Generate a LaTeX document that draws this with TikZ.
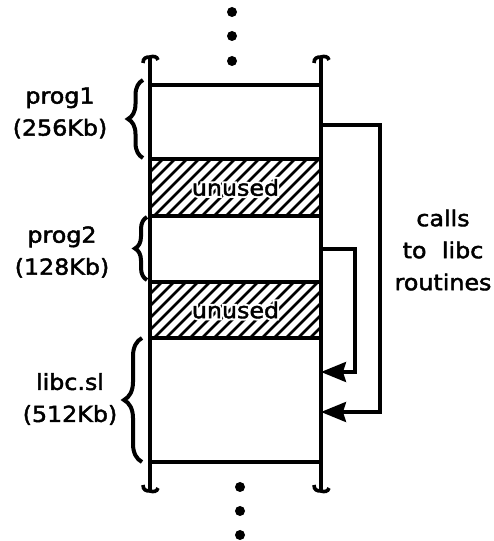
\documentclass[tikz,border=0pt]{standalone}
\usepackage{fontspec}
\setmainfont{DejaVu Sans}[FakeStretch=1.08, FakeBold=2]
\newfontfamily\halofont{DejaVu Sans}[FakeStretch=1.08, FakeBold=20]
\usetikzlibrary{arrows.meta,decorations.pathreplacing}

\tikzset{
  memline/.style={line width=3.6pt},
  hatchline/.style={line width=2.8pt},
  callarrow/.style={line width=3.2pt, -{Stealth[length=25pt,width=20pt,inset=3pt]}},
  segbrace/.style={line width=4pt, decorate, decoration={brace, amplitude=#1}},
  lbl/.style={align=center, font=\fontsize{22}{32}\selectfont},
  halo/.style={lbl, text=white, font=\fontsize{22}{32}\selectfont\halofont},
}
\newcommand{\breakmark}[2]{%
  \draw[memline, shift={(#1)}, yscale=#2]
    (-7,-6) .. controls (-7,-1) and (-4,0) .. (0,0)
    .. controls (3,1) and (7,1) .. (8,-3);}

\begin{document}
\begin{tikzpicture}[x=1pt, y=1pt]
  \useasboundingbox (0,0) rectangle (494,541);

  \coordinate (LT) at (150,484);
  \coordinate (LB) at (150,50);
  \coordinate (RT) at (321,484);
  \coordinate (RB) at (321,50);

  \foreach \ylo/\yhi/\nm in {325/382/unusedA, 203/259/unusedB} {
    \begin{scope}
      \clip (150,\ylo) rectangle (321,\yhi);
      \foreach \x in {82,94,...,321} \draw[hatchline] (\x,\ylo) -- ++(60,60);
    \end{scope}
    \node[halo] (\nm bg) at (235.5,{(\ylo+\yhi)/2}) {unused};
    \node[lbl] (\nm) at (235.5,{(\ylo+\yhi)/2}) {unused};
  }

  \foreach \y in {456,382,325,259,203,79} \draw[memline] (150,\y) -- (321,\y);
  \draw[memline] (LT) -- (LB);
  \draw[memline] (RT) -- (RB);
  \breakmark{LT}{1} \breakmark{RT}{1}
  \breakmark{LB}{-1} \breakmark{RB}{-1}

  \foreach \y in {529,505,480} \fill (232,\y) circle (5);
  \foreach \y in {54,30,6} \fill (240,\y) circle (5);

  \draw[segbrace=15pt] (143,383) -- (143,461);
  \draw[segbrace=12pt] (147,261) -- (147,324);
  \draw[segbrace=18pt] (142,79) -- (142,203);

  \node[lbl] (prog1) at (60,428) {prog1\\(256Kb)};
  \node[lbl] (prog2) at (62,289) {prog2\\(128Kb)};
  \node[lbl] (libc) at (70,142) {libc.sl\\(512Kb)};
  \node[lbl] (calls) at (443,291) {calls\\to\hspace{0.7em}libc\\routines};

  \coordinate (p1call) at (321,416);
  \coordinate (p2call) at (321,292);
  \coordinate (libA) at (321,169);
  \coordinate (libB) at (321,129);
  \draw[callarrow] (p2call) -- ++(34,0) |- (libA);
  \draw[callarrow] (p1call) -- ++(59,0) |- (libB);
\end{tikzpicture}
\end{document}
